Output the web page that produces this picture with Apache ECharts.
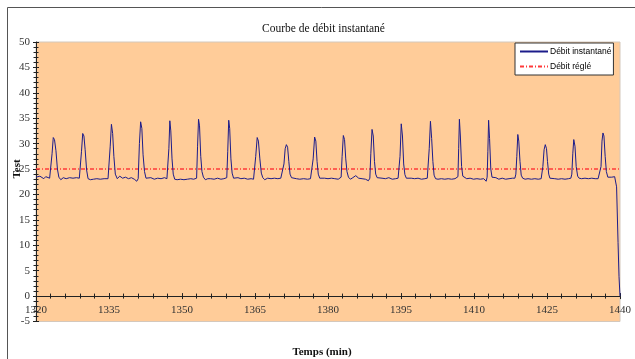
<!DOCTYPE html>
<html>
<head>
<meta charset="utf-8">
<script src="https://cdn.jsdelivr.net/npm/echarts@6/dist/echarts.min.js"></script>
<style>
html,body{margin:0;padding:0;background:#fff;}
#chart{width:635px;height:359px;}
</style>
</head>
<body>
<div id="chart"></div>
<script>
// ---- data ----
var chartTitle = 'Courbe de débit instantané';
var xTitle = 'Temps (min)';
var yTitle = 'Test';
var seriesNames = ['Débit instantané', 'Débit réglé'];
var xMin = 1320, xMax = 1440, xStep = 15;
var yMin = -5, yMax = 50, yStep = 5;
var setFlow = 25;
// [time (min), flow]
var instantFlow = [
  [1320.0,23.4],[1320.4,23.2],[1320.8,23.6],[1321.2,23.3],[1321.6,23.1],[1322.0,23.5],[1322.4,23.6],[1322.8,23.2],
  [1323.0,23.4],[1323.3,28.0],[1323.55,31.2],[1323.8,30.8],[1324.1,28.6],[1324.4,25.0],[1324.7,23.4],[1325.1,22.9],[1325.6,23.3],[1326.2,23.1],[1326.9,23.3],[1327.6,23.2],[1328.3,23.3],[1328.9,23.2],
  [1329.1,23.4],[1329.35,28.5],[1329.6,32.0],[1329.85,31.5],[1330.1,28.8],[1330.4,24.8],[1330.7,23.1],[1331.2,22.9],[1331.8,23.0],[1332.5,23.1],[1333.2,23.0],[1334.0,23.1],[1334.8,23.1],
  [1335.0,23.3],[1335.25,29.5],[1335.5,33.8],[1335.75,32.0],[1336.0,27.5],[1336.3,24.0],[1336.7,23.1],[1337.2,23.6],[1337.8,23.2],[1338.4,23.4],[1339.0,23.1],[1339.6,23.3],[1340.2,23.0],[1340.7,22.6],
  [1341.0,23.1],[1341.25,30.0],[1341.5,34.3],[1341.75,33.0],[1342.0,27.8],[1342.3,24.5],[1342.6,23.2],[1343.0,22.9],[1343.6,23.3],[1344.3,23.0],[1345.0,23.2],[1345.7,23.1],[1346.4,23.3],[1346.9,23.1],
  [1347.1,23.2],[1347.3,29.0],[1347.5,34.5],[1347.7,32.5],[1347.95,27.0],[1348.2,24.0],[1348.5,23.0],[1349.0,22.9],[1349.7,23.0],[1350.4,22.9],[1351.1,23.0],[1351.8,23.1],[1352.4,23.0],[1352.8,22.7],
  [1353.0,23.2],[1353.2,29.5],[1353.4,34.8],[1353.6,33.5],[1353.85,27.5],[1354.1,24.5],[1354.4,23.4],[1354.8,22.9],[1355.3,23.1],[1355.9,23.1],[1356.6,23.0],[1357.3,23.2],[1358.0,23.0],[1358.6,23.1],[1359.0,22.9],
  [1359.2,23.3],[1359.4,28.5],[1359.6,34.6],[1359.8,33.0],[1360.05,27.0],[1360.3,24.2],[1360.6,23.2],[1361.0,22.9],[1361.5,23.3],[1362.1,23.1],[1362.8,23.2],[1363.5,23.0],[1364.2,23.1],[1364.7,23.0],
  [1364.9,23.2],[1365.15,27.5],[1365.45,31.2],[1365.7,30.5],[1366.0,27.0],[1366.3,24.2],[1366.6,23.3],[1367.0,22.9],[1367.6,23.2],[1368.3,23.1],[1369.0,23.2],[1369.7,23.1],[1370.3,23.2],
  [1370.7,23.5],[1370.95,26.0],[1371.2,29.0],[1371.45,29.8],[1371.7,29.3],[1371.95,26.5],[1372.2,24.0],[1372.5,23.3],[1372.9,23.0],[1373.5,23.1],[1374.2,23.0],[1375.0,23.1],[1375.8,23.0],[1376.4,23.1],
  [1376.7,23.3],[1376.95,27.0],[1377.25,31.3],[1377.5,30.5],[1377.75,26.5],[1378.0,24.0],[1378.3,23.2],[1378.7,22.9],[1379.3,23.2],[1380.0,23.1],[1380.7,23.2],[1381.4,23.1],[1382.1,23.0],[1382.5,23.1],
  [1382.7,23.4],[1382.9,27.5],[1383.15,31.6],[1383.4,30.8],[1383.65,27.0],[1383.9,24.5],[1384.2,23.4],[1384.6,23.0],[1385.1,23.3],[1385.7,23.7],[1386.3,23.2],[1387.0,23.1],[1387.7,23.0],[1388.3,22.7],
  [1388.6,23.2],[1388.8,28.0],[1389.05,32.8],[1389.3,31.5],[1389.55,26.5],[1389.8,24.0],[1390.1,23.3],[1390.5,23.0],[1391.1,23.2],[1391.8,23.1],[1392.5,23.3],[1393.2,23.0],[1393.9,23.1],[1394.4,23.2],
  [1394.6,23.3],[1394.8,27.5],[1395.05,33.9],[1395.3,31.5],[1395.55,26.0],[1395.8,23.9],[1396.1,23.2],[1396.5,23.0],[1397.1,23.2],[1397.8,23.1],[1398.5,23.2],[1399.2,23.0],[1399.9,23.1],[1400.4,23.2],
  [1400.6,23.3],[1400.8,29.0],[1401.05,34.4],[1401.3,31.0],[1401.55,26.5],[1401.8,23.8],[1402.1,23.1],[1402.6,23.0],[1403.3,23.1],[1404.0,23.0],[1404.7,23.1],[1405.4,23.0],[1406.1,23.1],[1406.5,23.2],
  [1406.7,23.5],[1406.85,29.0],[1407.0,34.8],[1407.2,31.5],[1407.45,25.5],[1407.7,23.6],[1408.0,23.3],[1408.5,23.1],[1409.2,23.2],[1409.9,23.0],[1410.6,23.1],[1411.3,23.0],[1412.0,23.1],[1412.5,22.6],
  [1412.7,23.4],[1412.85,28.5],[1413.0,34.6],[1413.2,31.0],[1413.45,25.0],[1413.7,23.4],[1414.0,23.1],[1414.5,23.3],[1415.1,23.0],[1415.8,23.2],[1416.5,23.0],[1417.2,23.1],[1417.9,23.2],[1418.4,23.2],
  [1418.6,24.0],[1418.8,27.5],[1419.0,31.8],[1419.2,30.5],[1419.45,26.5],[1419.7,23.8],[1420.0,23.2],[1420.5,23.0],[1421.1,23.1],[1421.8,23.0],[1422.5,23.1],[1423.2,23.0],[1423.8,23.1],
  [1424.15,25.5],[1424.4,28.8],[1424.65,29.8],[1424.9,29.0],[1425.1,26.5],[1425.35,24.0],[1425.6,23.2],[1426.0,23.0],[1426.6,23.1],[1427.3,23.0],[1428.0,23.1],[1428.7,23.0],[1429.4,23.1],[1429.9,23.2],
  [1430.1,24.0],[1430.3,28.0],[1430.5,30.8],[1430.75,29.5],[1431.0,25.5],[1431.3,23.6],[1431.6,23.2],[1432.1,23.1],[1432.8,23.2],[1433.5,23.1],[1434.2,23.2],[1434.9,23.1],[1435.5,23.1],[1435.9,23.4],
  [1436.1,25.5],[1436.3,30.5],[1436.5,32.1],[1436.7,31.5],[1436.95,27.5],[1437.2,24.5],[1437.5,23.4],[1437.9,23.3],[1438.3,23.4],[1438.7,23.2],[1438.9,23.5],
  [1439.3,21.5],[1439.6,10.5],[1439.8,3.8],[1440.0,0]
];
var setFlowLine = [[xMin, setFlow], [xMax, setFlow]];

// ---- chart ----
var serif = '"Liberation Serif", "Times New Roman", serif';
var gridTop = 42, gridBottom = 37.5, chartH = 359;
var plotH = chartH - gridTop - gridBottom;
var zeroOffset = -plotH * (0 - yMin) / (yMax - yMin); // place the x axis at y = 0
var chart = echarts.init(document.getElementById('chart'));
var tickStyle = {color: '#222', width: 1};
function plain(v) { return String(v); }
function yAx(inside, showLabel) {
  return {
    type: 'value', min: yMin, max: yMax, interval: yStep, position: 'left',
    axisLine: {show: !inside, onZero: false, lineStyle: {color: '#222', width: 1}},
    axisTick: {show: true, inside: inside, length: 3, lineStyle: tickStyle},
    minorTick: {show: true, splitNumber: 5, length: 2.5, lineStyle: tickStyle},
    axisLabel: {show: showLabel, color: '#333', fontFamily: serif, fontSize: 11, margin: 6, formatter: plain},
    splitLine: {show: false}
  };
}
function xAx(inside, showLabel) {
  return {
    type: 'value', min: xMin, max: xMax, interval: xStep, position: 'bottom', offset: zeroOffset,
    axisLine: {show: !inside, onZero: false, lineStyle: {color: '#222', width: 1}},
    axisTick: {show: true, inside: inside, length: 3, lineStyle: tickStyle},
    minorTick: {show: true, splitNumber: 5, length: 2.5, lineStyle: tickStyle},
    axisLabel: {show: showLabel, color: '#333', fontFamily: serif, fontSize: 11, margin: 9, formatter: plain},
    splitLine: {show: false}
  };
}
chart.setOption({
  animation: false,
  title: {
    text: chartTitle, left: 257, top: 18,
    textStyle: {fontFamily: serif, fontSize: 11.5, fontWeight: 'normal', color: '#111'}
  },
  grid: {
    left: 36, right: 15, top: gridTop, bottom: gridBottom,
    show: true, backgroundColor: '#FFCC99', borderColor: '#d4c8bc', borderWidth: 1
  },
  legend: {
    orient: 'vertical', left: 515, top: 43,
    backgroundColor: '#fff', borderColor: '#333', borderWidth: 1,
    padding: [4, 2, 4, 4], itemGap: 6, itemWidth: 28, itemHeight: 8,
    itemStyle: {opacity: 0},
    textStyle: {fontFamily: '"Liberation Sans Narrow", "Liberation Sans", Arial, sans-serif', fontSize: 8.5, color: '#000', padding: [0, 0, 0, -3]},
    data: seriesNames
  },
  xAxis: [xAx(false, true), xAx(true, false)],
  yAxis: [yAx(false, true), yAx(true, false)],
  graphic: [
    {type: 'rect', shape: {x: 7.5, y: 7.5, width: 700, height: 400}, style: {fill: 'none', stroke: '#555', lineWidth: 1}, silent: true, z: 100},
    {type: 'text', x: 322, y: 352, style: {text: xTitle, font: 'bold 11px ' + serif, fill: '#111', textAlign: 'center', textVerticalAlign: 'middle'}},
    {type: 'text', x: 17, y: 169, rotation: Math.PI / 2, style: {text: yTitle, font: 'bold 11px ' + serif, fill: '#111', textAlign: 'center', textVerticalAlign: 'middle'}}
  ],
  series: [
    {
      name: seriesNames[0], type: 'line', data: instantFlow, showSymbol: false, symbol: 'none',
      lineStyle: {color: '#1c1c8a', width: 1}, itemStyle: {color: '#1c1c8a'}, z: 3
    },
    {
      name: seriesNames[1], type: 'line', data: setFlowLine, showSymbol: false, symbol: 'none',
      lineStyle: {color: '#ff3a3a', width: 1.5, type: [4, 2, 1, 2]}, itemStyle: {color: '#ff3a3a'}, z: 2
    }
  ]
});
</script>
</body>
</html>
